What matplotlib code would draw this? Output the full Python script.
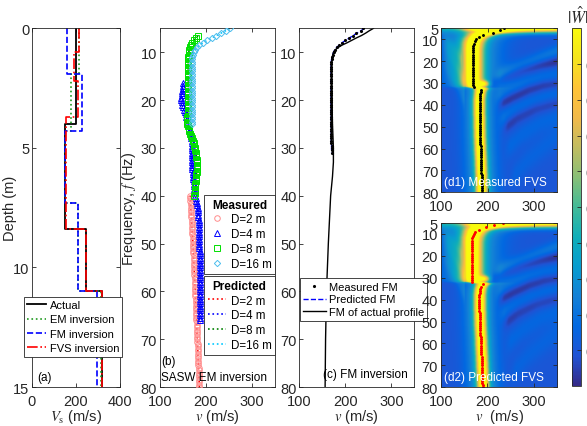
"""Vs inversion comparison: profiles, SASW curves, FM curves and FVS images."""

import matplotlib

matplotlib.use("Agg")

import matplotlib.pyplot as plt
import numpy as np
from matplotlib.colors import LinearSegmentedColormap

# (a) layered Vs profiles: layer interfaces (m) and layer Vs (m/s)
DEPTH_ACTUAL = [0, 4.0, 8.4, 11.0, 15]
VS_ACTUAL = [200, 150, 245, 320]
DEPTH_EM = [0, 1.9, 4.3, 7.3, 11.0, 15]
VS_EM = [212, 177, 150, 207, 312]
DEPTH_FM = [0, 1.9, 4.3, 7.3, 11.0, 15]
VS_FM = [157, 228, 148, 207, 295]
DEPTH_FVS = [0, 1.0, 2.2, 3.7, 8.4, 11.0, 15]
VS_FVS = [214, 192, 207, 155, 245, 320]

# (b) SASW phase velocities (m/s), 0.5 Hz apart from the first frequency
F0_D2 = 40.0
V_D2 = [166.0, 166.3, 166.6, 166.9, 167.2, 167.5, 167.8, 168.1, 168.4, 168.7,
        169.0, 169.3, 169.6, 169.9, 170.2, 170.5, 170.8, 171.1, 171.4, 171.7,
        172.0, 172.3, 172.5, 172.8, 173.0, 173.3, 173.5, 173.8, 174.0, 174.3,
        174.5, 174.8, 175.0, 175.3, 175.5, 175.8, 176.0, 176.3, 176.5, 176.8,
        177.0, 177.2, 177.5, 177.7, 177.9, 178.1, 178.4, 178.6, 178.8, 179.0,
        179.3, 179.5, 179.7, 179.9, 180.2, 180.4, 180.6, 180.8, 181.1, 181.3,
        181.5, 181.7, 182.0, 182.2, 182.4, 182.6, 182.9, 183.1, 183.3, 183.5,
        183.8, 184.0, 184.2, 184.4, 184.7, 184.9, 185.1, 185.3, 185.6, 185.8,
        186.0]
F0_D4 = 16.5
V_D4 = [151.0, 150.5, 150.0, 149.0, 148.0, 147.5, 147.0, 147.0, 147.5, 148.5,
        150.0, 152.0, 154.0, 156.0, 157.5, 159.0, 161.0, 162.5, 164.0, 165.5,
        166.5, 167.5, 168.0, 168.5, 169.0, 169.0, 169.5, 169.5, 169.5, 170.0,
        170.0, 170.0, 170.5, 170.5, 170.5, 171.0, 171.0, 171.5, 172.0, 172.5,
        173.0, 173.5, 174.0, 174.5, 175.0, 176.0, 176.5, 177.5, 178.0, 179.0,
        180.0, 181.0, 182.0, 182.5, 183.0, 183.5, 184.0, 184.5, 185.0, 185.0,
        185.5, 185.5, 185.5, 186.0, 186.0, 186.0, 186.1, 186.1, 186.2, 186.2,
        186.3, 186.3, 186.4, 186.4, 186.5, 186.5, 186.6, 186.6, 186.7, 186.7,
        186.8, 186.8, 186.9, 186.9, 187.0, 187.0, 187.0, 187.1, 187.1, 187.2,
        187.2, 187.3, 187.3, 187.4, 187.4, 187.4, 187.5, 187.5, 187.5, 187.5]
F0_D8 = 6.5
V_D8 = [183.0, 179.0, 174.0, 170.0, 167.0, 165.0, 164.0, 163.0, 162.5, 162.0,
        162.0, 161.5, 161.5, 161.5, 161.5, 161.5, 161.5, 162.0, 162.0, 162.0,
        162.0, 162.0, 162.0, 162.0, 162.0, 162.0, 162.0, 162.0, 162.0, 162.0,
        161.5, 161.5, 161.0, 160.5, 160.0, 159.5, 159.5, 160.0, 161.0, 162.5,
        164.0, 166.0, 168.0, 170.0, 172.0, 173.5, 175.0, 176.0, 177.0, 178.0,
        179.0, 179.5, 180.0, 180.5, 180.5, 180.5, 180.5, 180.0, 179.5, 179.0,
        178.5, 178.0, 177.5, 177.0, 176.5, 176.0, 175.5, 175.0]
F0_D16 = 5.0
V_D16 = [252.0, 243.0, 233.0, 223.0, 213.0, 203.0, 194.0, 186.0, 180.0, 176.0,
         173.5, 171.5, 170.5, 170.0, 169.5, 169.5, 169.5, 169.5, 169.5, 169.5,
         169.5, 169.5, 169.5, 169.5, 169.5, 169.0, 169.0, 169.0, 169.0, 169.0,
         169.0, 169.0, 169.0, 169.0, 169.0, 169.0, 169.0, 169.0, 169.0, 169.0,
         169.0]

# (c) fundamental mode (FM) curves
F_FM_ACTUAL = [5, 5.5, 6, 6.5, 7, 7.5, 8, 8.5, 9, 9.5, 10, 11, 12, 14, 17,
               20, 25, 30, 33, 36, 40, 50, 60, 70, 80]
V_FM_ACTUAL = [261, 252, 244, 235, 224, 214, 204, 193, 184, 178, 174, 171.5,
               170.5, 170, 170.5, 171, 172, 174, 174, 172, 168, 163, 159, 157,
               156]
F0_FM = 5.0
V_FM_MEAS = [239, 233, 224, 216, 208, 200, 192, 186, 181, 177, 174.5, 172.5,
             171, 170, 169.5, 169.2, 169.0, 169.0, 169.0, 169.0, 169.0, 169.0,
             169.0, 169.0, 169.0, 169.0, 169.0, 169.0, 169.0, 169.0, 169.0,
             169.0, 169.0, 169.0, 169.0, 169.0, 169.0, 169.0, 169.0, 169.0,
             169.0, 169.0, 169.0, 169.5, 169.5, 169.5, 169.5, 169.5, 169.5,
             170.0, 170.0, 170.0, 170.0]
V_FM_PRED = [241, 234, 225, 217, 209, 201, 193, 187, 181, 177, 174.5, 172.5,
             171, 170, 169.5, 169.2, 169.0, 169.0, 169.0, 169.0, 169.0, 169.0,
             169.0, 169.0, 169.0, 169.0, 169.0, 169.0, 169.0, 169.0, 169.0,
             169.0, 169.0, 169.0, 169.0, 169.0, 169.0, 169.0, 169.0, 169.0,
             169.0, 169.0, 169.0, 169.5, 169.5, 169.5, 169.5, 169.5, 169.5,
             170.0, 170.0, 170.0, 170.0]

# (d) picked spectral peaks, 1 Hz apart (two branches: 5-32 Hz, 33-80 Hz)
F_PEAK_1 = np.arange(5, 33)
F_PEAK_2 = np.arange(33, 81)
V_MEAS_1 = [236, 226, 212, 190, 181, 175, 172, 170, 169, 168.5, 168, 168, 168,
            168, 168, 168, 168, 168, 168, 168, 168, 168, 168, 168, 168, 168.5,
            169, 170]
V_MEAS_2 = [186, 185, 184, 183.5, 183, 182.5, 182.5, 182.5, 182.5, 182.5,
            182.5, 182.5, 182.5, 183, 183, 183, 183, 183, 183, 183.5, 183.5,
            183.5, 183.5, 184, 184, 184, 184.5, 184.5, 184.5, 185, 185, 185.5,
            185.5, 186, 186, 186, 186.5, 186.5, 186.5, 187, 187, 187, 187,
            187.5, 187.5, 187.5, 187.5, 187.5]
V_PRED_1 = [234, 215, 196, 181, 174, 171, 169, 167.5, 167, 166.5, 166.5, 166.5,
            166.5, 166.5, 166.5, 166.5, 166.5, 166.5, 166.5, 166.5, 166.5,
            166.5, 166.5, 166.5, 166.5, 166.5, 167, 168]
V_PRED_2 = [190, 187, 185, 184, 183.5, 183, 183, 183, 183, 183, 183, 183, 183,
            183.5, 183.5, 183.5, 183.5, 184, 184, 184, 184.5, 184.5, 185, 185,
            185.5, 185.5, 186, 186, 186, 186.5, 186.5, 187, 187, 187.5, 187.5,
            187.5, 188, 188, 188, 188.5, 188.5, 188.5, 189, 189, 189.5, 189.5,
            190, 190]

# higher-mode streaks in the FVS images: (v knots, f knots, amplitude, width in Hz)
MODES = [
    ([212, 240, 280, 320, 350], [28.5, 25.5, 22, 18.5, 16], 0.12, 2.3),
    ([200, 235, 275, 315, 350], [32, 28, 24.5, 22, 20.5], -0.10, 1.8),
    ([212, 245, 285, 320, 350], [37, 33.5, 30, 28, 27], 0.09, 2.5),
    ([220, 255, 290, 320, 350], [41, 37, 33.5, 31.5, 30.5], -0.10, 2.0),
    ([220, 255, 295, 330, 350], [48, 43, 39, 36.5, 35.5], 0.08, 3.0),
    ([230, 265, 305, 350], [52, 46, 42, 39.5], -0.08, 2.2),
    ([235, 275, 315, 350], [62, 54, 48.5, 45.5], 0.06, 3.5),
    ([245, 285, 325, 350], [76, 66, 59, 55], 0.05, 4.0),
    ([100, 125, 150], [12, 20, 30], 0.10, 3.0),
    ([100, 130, 150], [19, 29, 37], 0.07, 3.0),
    ([100, 120, 145], [8, 13, 20], 0.08, 2.5),
]

PARULA = LinearSegmentedColormap.from_list("parula", [
    (0.2081, 0.1663, 0.5292), (0.1253, 0.3242, 0.8303), (0.0060, 0.4086, 0.8828),
    (0.0779, 0.5040, 0.8384), (0.0265, 0.6137, 0.8135), (0.0590, 0.6838, 0.7254),
    (0.2586, 0.7317, 0.5954), (0.5300, 0.7491, 0.4661), (0.7525, 0.7384, 0.3768),
    (0.9449, 0.7261, 0.2886), (0.9990, 0.7653, 0.2164), (0.9589, 0.8949, 0.1132),
    (0.9763, 0.9831, 0.0538)])

DARK = "#262626"
V_GRID = np.linspace(100, 350, 251)
F_GRID = np.linspace(5, 80, 301)


def layer_xy(depths, vs):
    x = np.repeat(vs, 2)
    y = np.column_stack([depths[:-1], depths[1:]]).ravel()
    return x, y


def half_hz(f0, values):
    return f0 + 0.5 * np.arange(len(values))


def fvs_image(f_peak, v_peak):
    vv, ff = np.meshgrid(V_GRID, F_GRID)
    vc = np.interp(F_GRID, f_peak, v_peak)[:, None]
    step = 1.0 / (1.0 + np.exp(-(ff - 32.5) / 0.6))
    width = 14.0 - 6.0 * step + 12.0 * np.exp(-(ff - 5.0) / 2.5)
    z = np.full(vv.shape, 0.1)
    z += 0.9 * np.exp(-0.5 * ((vv - vc) / width) ** 2)
    z += 0.28 * np.exp(-0.5 * ((vv - vc) / (2.8 * width)) ** 2)
    side = 1.0 / (1.0 + np.exp(-(vv - 155.0) / 8.0))
    z += (0.3 + 0.7 * side) * np.exp(-0.5 * ((ff - 5.0) / 1.7) ** 2)
    z += 0.55 * np.exp(-0.5 * (((vv - 192) / 8.0) ** 2 + ((ff - 30.8) / 1.0) ** 2))
    for v_k, f_k, amp, wf in MODES:
        fc = np.interp(vv, v_k, f_k)
        taper = np.clip((vv - v_k[0]) / 15.0, 0, 1) * (vv <= v_k[-1])
        z += amp * taper * np.exp(-0.5 * ((ff - fc) / wf) ** 2)
    return np.clip(z, 0, 1)


def style(ax):
    ax.tick_params(direction="in", top=True, right=True, length=3, width=0.6,
                   colors=DARK, labelsize=10.5)
    ax.tick_params(axis="y", pad=2)
    ax.tick_params(axis="x", pad=5)
    for s in ax.spines.values():
        s.set_linewidth(0.6)
        s.set_color(DARK)


def legend_box(leg):
    frame = leg.get_frame()
    frame.set_edgecolor(DARK)
    frame.set_linewidth(0.6)
    frame.set_boxstyle("square", pad=0)


def main() -> None:
    plt.rcParams["font.family"] = ["Liberation Sans", "DejaVu Sans"]
    plt.rcParams["mathtext.fontset"] = "stix"
    plt.rcParams["axes.labelcolor"] = DARK

    fig = plt.figure(figsize=(5.87, 4.27), dpi=100)
    ax_a = fig.add_axes([0.0545, 0.0913, 0.1499, 0.840])
    ax_b = fig.add_axes([0.2721, 0.0913, 0.1964, 0.840])
    ax_c = fig.add_axes([0.5099, 0.0913, 0.1962, 0.840])
    ax_d1 = fig.add_axes([0.7518, 0.5473, 0.1976, 0.3841])
    ax_d2 = fig.add_axes([0.7508, 0.0906, 0.1987, 0.3848])
    cax = fig.add_axes([0.975, 0.0932, 0.0143, 0.8384])

    # (a) profiles
    ax_a.plot(*layer_xy(DEPTH_ACTUAL, VS_ACTUAL), color="black", lw=1.3, label="Actual")
    ax_a.plot(*layer_xy(DEPTH_EM, VS_EM), color="#1f9a1f", lw=1.2, ls=":", label="EM inversion")
    ax_a.plot(*layer_xy(DEPTH_FM, VS_FM), color="#0000ff", lw=1.2, ls="--", label="FM inversion")
    ax_a.plot(*layer_xy(DEPTH_FVS, VS_FVS), color="#ff0000", lw=1.2, ls="-.", label="FVS inversion")
    ax_a.set_xlim(0, 400)
    ax_a.set_ylim(15, 0)
    ax_a.set_xticks([0, 200, 400])
    ax_a.set_yticks([0, 5, 10, 15])
    ax_a.set_xlabel(r"$V_\mathrm{s}$ (m/s)", fontsize=10.5, labelpad=-1)
    ax_a.set_ylabel("Depth (m)", fontsize=10.5)
    ax_a.yaxis.set_label_coords(-0.165, 0.5)
    leg = ax_a.legend(loc="upper left", bbox_to_anchor=(-0.091, 0.252), borderaxespad=0,
                      fontsize=8.0, handlelength=1.7, handletextpad=0.3,
                      labelspacing=0.4, borderpad=0.3, framealpha=1, fancybox=False)
    legend_box(leg)
    ax_a.text(0.06, 0.012, "(a)", transform=ax_a.transAxes, fontsize=8.5, va="bottom")
    style(ax_a)

    # (b) SASW curves
    series = [
        (F0_D2, V_D2, "o", "#ff8c8c", "#ff0000"),
        (F0_D4, V_D4, "^", "#0000ff", "#0000ff"),
        (F0_D8, V_D8, "s", "#00e000", "#008000"),
        (F0_D16, V_D16, "D", "#4dbeee", "#00c8ff"),
    ]
    names = ["D=2 m", "D=4 m", "D=8 m", "D=16 m"]
    meas_h, pred_h = [], []
    for (f0, vals, mk, mcol, lcol), name in zip(series, names):
        f = half_hz(f0, vals)
        (lp,) = ax_b.plot(vals, f, ls=":", color=lcol, lw=1.2, label=name, zorder=2)
        ms = 3.2 if mk == "D" else 4.0
        (lm,) = ax_b.plot(vals, f, ls="none", marker=mk, mfc="none", mec=mcol,
                          ms=ms, mew=0.7, label=name, zorder=3)
        meas_h.append(lm)
        pred_h.append(lp)
    ax_b.set_xlim(100, 350)
    ax_b.set_ylim(80, 5)
    ax_b.set_xticks([100, 200, 300])
    ax_b.set_yticks(range(10, 81, 10))
    ax_b.set_xlabel(r"$v$ (m/s)", fontsize=10.5, labelpad=-1)
    ax_b.set_ylabel(r"Frequency, $f$ (Hz)", fontsize=10.5)
    ax_b.yaxis.set_label_coords(-0.19, 0.5)
    title_font = {"weight": "bold", "size": 8.5}
    leg1 = ax_b.legend(handles=meas_h, title="Measured", title_fontproperties=title_font,
                       loc="upper right", bbox_to_anchor=(1.0, 0.535), borderaxespad=0,
                       fontsize=8.3, handlelength=1.6, handletextpad=0.4,
                       labelspacing=0.25, borderpad=0.3, framealpha=1, fancybox=False)
    legend_box(leg1)
    ax_b.add_artist(leg1)
    leg2 = ax_b.legend(handles=pred_h, title="Predicted", title_fontproperties=title_font,
                       loc="upper right", bbox_to_anchor=(1.0, 0.309), borderaxespad=0,
                       fontsize=8.3, handlelength=1.6, handletextpad=0.4,
                       labelspacing=0.25, borderpad=0.3, framealpha=1, fancybox=False)
    legend_box(leg2)
    ax_b.text(0.015, 0.073, "(b)", transform=ax_b.transAxes, fontsize=8.5, va="center")
    ax_b.text(0.015, 0.028, "SASW EM inversion", transform=ax_b.transAxes,
              fontsize=8.5, va="center")
    style(ax_b)

    # (c) fundamental mode
    f_fm = half_hz(F0_FM, V_FM_MEAS)
    ax_c.plot(V_FM_MEAS, f_fm, ls="none", marker=".", ms=2.5, color="black",
              label="Measured FM", zorder=3)
    ax_c.plot(V_FM_PRED, half_hz(F0_FM, V_FM_PRED), ls="--", color="#0000ff", lw=1.0,
              label="Predicted FM", zorder=2)
    ax_c.plot(V_FM_ACTUAL, F_FM_ACTUAL, color="black", lw=1.0,
              label="FM of actual profile", zorder=2)
    ax_c.set_xlim(100, 350)
    ax_c.set_ylim(80, 5)
    ax_c.set_xticks([100, 200, 300])
    ax_c.set_yticks(range(10, 81, 10))
    ax_c.set_xlabel(r"$v$ (m/s)", fontsize=10.5, labelpad=-1)
    leg3 = ax_c.legend(loc="upper left", bbox_to_anchor=(0.006, 0.303), borderaxespad=0,
                       fontsize=8.0, handlelength=2.0, handletextpad=0.3,
                       labelspacing=0.25, borderpad=0.3, framealpha=1, fancybox=False)
    legend_box(leg3)
    ax_c.text(0.945, 0.02, "(c) FM inversion", transform=ax_c.transAxes, fontsize=8.5,
              ha="right", va="bottom")
    style(ax_c)

    # (d) FVS images
    panels = [
        (ax_d1, V_MEAS_1, V_MEAS_2, "black", "(d1) Measured FVS"),
        (ax_d2, V_PRED_1, V_PRED_2, "#ff0000", "(d2) Predicted FVS"),
    ]
    for ax, v1, v2, col, label in panels:
        f_all = np.concatenate([F_PEAK_1, F_PEAK_2])
        v_all = np.concatenate([v1, v2])
        im = ax.imshow(fvs_image(f_all, v_all), extent=(100, 350, 80, 5), aspect="auto",
                       cmap=PARULA, vmin=0, vmax=1, interpolation="bilinear")
        ax.plot(v1, F_PEAK_1, ls="none", marker=".", ms=2.2, color=col)
        ax.plot(v2, F_PEAK_2, ls="none", marker=".", ms=2.2, color=col)
        ax.set_xlim(100, 350)
        ax.set_ylim(80, 5)
        ax.set_xticks([100, 200, 300])
        ax.set_yticks([5] + list(range(10, 81, 10)))
        ax.text(0.025, 0.06, label, transform=ax.transAxes, color="white",
                fontsize=8.5, va="center")
        style(ax)
    ax_d2.set_xlabel(r"$v$  (m/s)", fontsize=10.5, labelpad=-1)

    cb = fig.colorbar(im, cax=cax, ticks=np.arange(0.1, 0.91, 0.1))
    cb.ax.set_yticklabels([f"{t:.1f}" for t in np.arange(0.1, 0.91, 0.1)])
    cb.ax.tick_params(direction="in", length=3, width=0.6, colors=DARK, labelsize=10.5)
    cb.outline.set_linewidth(0.6)
    cb.outline.set_edgecolor(DARK)
    fig.text(0.966, 0.985, r"$|\hat{W}|$", fontsize=12, va="top", ha="left", color=DARK)

    fig.savefig("out.png", dpi=100)
    plt.close(fig)


if __name__ == "__main__":
    main()
